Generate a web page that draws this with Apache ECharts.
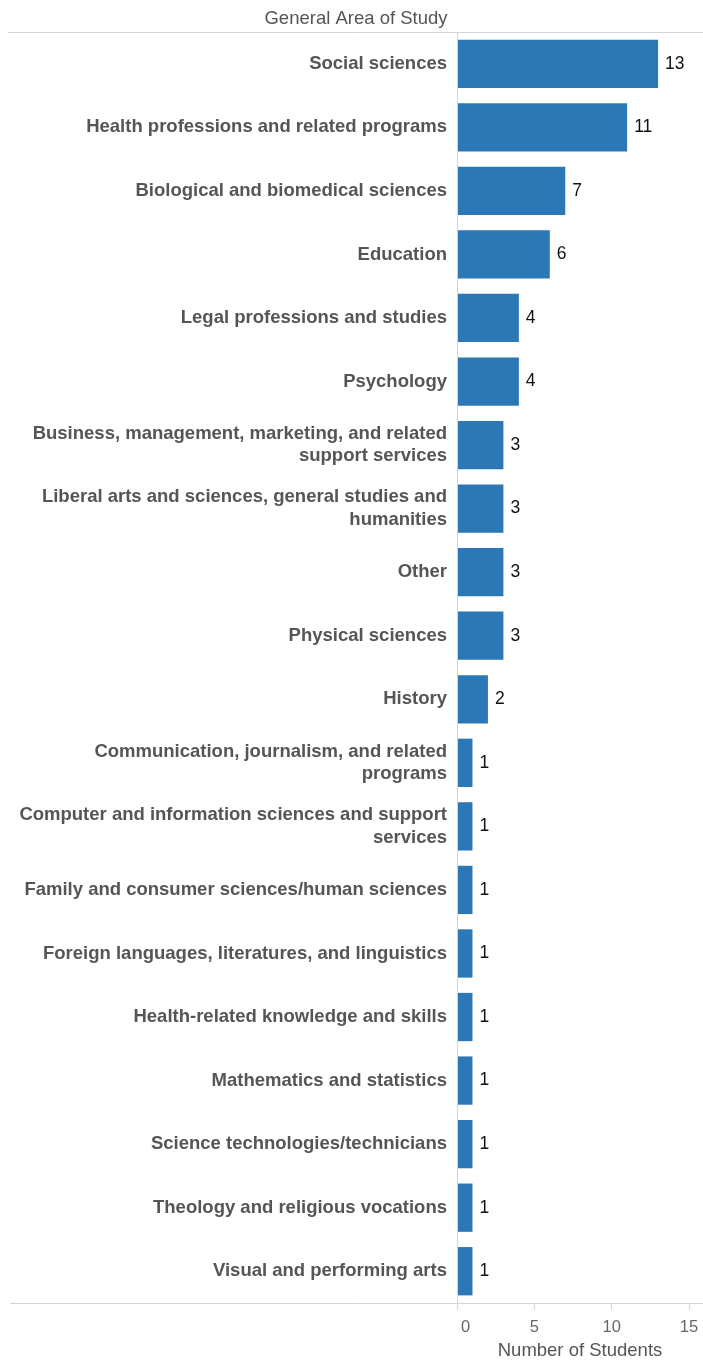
<!DOCTYPE html>
<html>
<head>
<meta charset="utf-8">
<script src="https://cdn.jsdelivr.net/npm/echarts@6/dist/echarts.min.js"></script>
<style>html,body{margin:0;padding:0;background:#fff}#c{width:703px;height:1361px}</style>
</head>
<body>
<div id="c"></div>
<script>
const categories = [
  "Social sciences",
  "Health professions and related programs",
  "Biological and biomedical sciences",
  "Education",
  "Legal professions and studies",
  "Psychology",
  "Business, management, marketing, and related support services",
  "Liberal arts and sciences, general studies and humanities",
  "Other",
  "Physical sciences",
  "History",
  "Communication, journalism, and related programs",
  "Computer and information sciences and support services",
  "Family and consumer sciences/human sciences",
  "Foreign languages, literatures, and linguistics",
  "Health-related knowledge and skills",
  "Mathematics and statistics",
  "Science technologies/technicians",
  "Theology and religious vocations",
  "Visual and performing arts"
];
const students = [13, 11, 7, 6, 4, 4, 3, 3, 3, 3, 2, 1, 1, 1, 1, 1, 1, 1, 1, 1];
const xTicks = [0, 5, 10, 15];
const headerTitle = "General Area of Study";
const axisTitle = "Number of Students";

const FONT = '"Liberation Sans", Arial, sans-serif';
const LABEL_SIZE = 18.5;
const WRAP_WIDTH = 436;
const measureCtx = document.createElement('canvas').getContext('2d');
measureCtx.font = 'bold ' + LABEL_SIZE + 'px ' + FONT;
function wrapLabel(text) {
  const words = text.split(' ');
  const lines = [];
  let cur = '';
  words.forEach(w => {
    const test = cur ? cur + ' ' + w : w;
    if (cur && measureCtx.measureText(test).width > WRAP_WIDTH) {
      lines.push(cur);
      cur = w;
    } else {
      cur = test;
    }
  });
  if (cur) lines.push(cur);
  return lines.join('\n');
}

const chart = echarts.init(document.getElementById('c'), null, {renderer: 'canvas'});
const W = 703, H = 1361;
const gridLeft = 457, gridRight = 14, gridTop = 32, gridBottom = 58;
chart.setOption({
  animation: false,
  textStyle: {fontFamily: FONT},
  grid: {left: gridLeft, right: gridRight, top: gridTop, bottom: gridBottom, containLabel: false, outerBoundsMode: 'none'},
  xAxis: {
    type: 'value', min: xTicks[0], max: xTicks[xTicks.length - 1], interval: xTicks[1] - xTicks[0],
    axisLine: {show: false},
    axisTick: {show: true, length: 7, lineStyle: {color: '#d4d4d4'}},
    splitLine: {show: false},
    axisLabel: {
      fontSize: 16.5, color: '#666', margin: 16, fontFamily: FONT,
      formatter: v => (v === xTicks[0] ? '{z|' + v + '}' : String(v)),
      rich: {z: {fontSize: 16.5, color: '#666', fontFamily: FONT, padding: [0, 0, 0, 17]}}
    },
    name: axisTitle, nameLocation: 'middle', nameGap: 38,
    nameTextStyle: {fontSize: 18.5, color: '#555', fontFamily: FONT, padding: [0, 0, 0, 14]}
  },
  yAxis: {
    type: 'category', inverse: true, data: categories, z: 10,
    axisLine: {show: true, lineStyle: {color: '#d4d4d4', width: 1}},
    axisTick: {show: false},
    axisLabel: {
      fontSize: LABEL_SIZE, fontWeight: 'bold', color: '#555', margin: 10, fontFamily: FONT,
      lineHeight: 22.5, align: 'right', formatter: wrapLabel
    }
  },
  series: [{
    type: 'bar', data: students, barCategoryGap: '24%',
    itemStyle: {color: '#2c77b6'},
    label: {show: true, position: 'right', distance: 7, color: '#111', fontSize: 17.5, fontFamily: FONT}
  }],
  graphic: [
    {type: 'line', z: 20, shape: {x1: 8, y1: gridTop + 0.5, x2: W, y2: gridTop + 0.5}, style: {stroke: '#d4d4d4', lineWidth: 1}},
    {type: 'line', z: 20, shape: {x1: 10, y1: H - gridBottom + 0.5, x2: W, y2: H - gridBottom + 0.5}, style: {stroke: '#d4d4d4', lineWidth: 1}},
    {type: 'text', z: 20, x: 356, y: 19, style: {text: headerTitle, fill: '#555', fontSize: 18.5, fontFamily: FONT, textAlign: 'center', textVerticalAlign: 'middle'}}
  ]
});
</script>
</body>
</html>
